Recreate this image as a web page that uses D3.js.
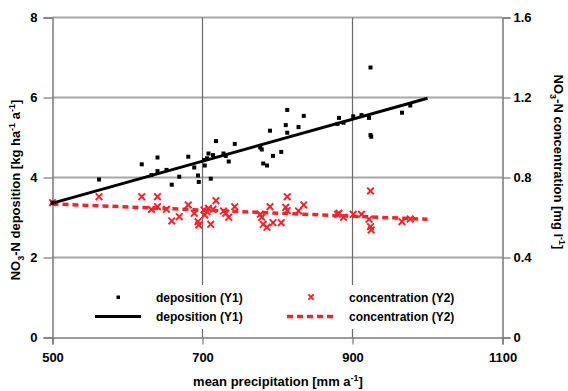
<!DOCTYPE html>
<html><head><meta charset="utf-8">
<script src="https://cdn.jsdelivr.net/npm/d3@7"></script>
<style>body{margin:0;background:#fff}svg{display:block}text{font-family:"Liberation Sans",Arial,sans-serif;font-weight:bold}</style>
</head><body><svg id="c" width="568" height="391"></svg>
<script>
const precip = [500,562,619,640,632,640,652,659,669,681,689,694,695,702,703,706,708,711,714,718,728,731,735,743,777,779,781,786,790,794,805,811,813,813,828,835,880,882,888,901,912,924,922,924,925,966,977];
const deposition = [3.37,3.95,4.33,4.50,4.06,4.16,4.19,3.82,4.02,4.52,4.25,4.05,3.89,4.44,4.30,4.48,4.60,3.97,4.56,4.91,4.60,4.54,4.40,4.84,4.75,4.70,4.35,4.30,5.17,4.54,4.64,5.31,5.69,5.12,5.26,5.54,5.34,5.49,5.37,5.53,5.56,6.75,5.49,5.06,5.02,5.62,5.80];
const concentration = [0.674,0.704,0.704,0.704,0.640,0.654,0.641,0.583,0.604,0.663,0.621,0.579,0.563,0.638,0.613,0.629,0.646,0.566,0.641,0.684,0.632,0.621,0.601,0.654,0.616,0.601,0.566,0.551,0.654,0.574,0.574,0.651,0.704,0.634,0.633,0.663,0.616,0.621,0.601,0.616,0.616,0.733,0.591,0.554,0.538,0.579,0.593];
const depTrendX = [500,1000], depTrendY = [3.36,5.98];
const concTrendX = [500,1000], concTrendY = [0.668,0.591];
const xTicks = [500,700,900,1100];
const y1Ticks = [0,2,4,6,8];
const y2Ticks = [0,0.4,0.8,1.2,1.6];

const svg = d3.select("#c");
const L=52.5, R=502.5, T=17.5, B=337.5;
const x = d3.scaleLinear().domain([500,1100]).range([L,R]);
const y1 = d3.scaleLinear().domain([0,8]).range([B,T]);
const y2 = d3.scaleLinear().domain([0,1.6]).range([B,T]);
const red = "#f4232b";

// horizontal gridlines
svg.append("g").selectAll("line").data(y1Ticks.filter(d=>d>0)).join("line")
  .attr("x1",L).attr("x2",R).attr("y1",d=>y1(d)).attr("y2",d=>y1(d))
  .attr("stroke","#a6a6a6").attr("stroke-width",2);
// vertical gridlines
svg.append("g").selectAll("line").data([700,900]).join("line")
  .attr("x1",d=>x(d)).attr("x2",d=>x(d)).attr("y1",T).attr("y2",B)
  .attr("stroke","#6a6a6a").attr("stroke-width",1.2);

// axes
const axStyle = g => {
  g.select(".domain").attr("stroke","#7a7a7a").attr("stroke-width",1.5);
  g.selectAll(".tick line").attr("stroke","#7a7a7a").attr("stroke-width",1.2);
  g.selectAll("text").attr("font-size",13).attr("fill","#000").style("font-weight","bold");
};
svg.append("g").attr("transform",`translate(0,${B})`)
  .call(d3.axisBottom(x).tickValues(xTicks).tickFormat(d3.format("d")).tickSizeOuter(0).tickSize(7).tickPadding(8))
  .call(axStyle);
svg.append("g").attr("transform",`translate(${L},0)`)
  .call(d3.axisLeft(y1).tickValues(y1Ticks).tickSizeOuter(0).tickSize(9).tickPadding(6))
  .call(axStyle);
svg.append("g").attr("transform",`translate(${R},0)`)
  .call(d3.axisRight(y2).tickValues(y2Ticks).tickFormat(d3.format("")).tickSizeOuter(0).tickSize(8).tickPadding(3))
  .call(axStyle);

// legend background
svg.append("rect").attr("x",85).attr("y",285).attr("width",380).attr("height",44).attr("fill","#fff");

// trend lines
const line = (xs,ys,sc)=>d3.line()(xs.map((v,i)=>[x(v),sc(ys[i])]));
svg.append("path").attr("d",line(concTrendX,concTrendY,y2)).attr("stroke",red).attr("stroke-width",3.5)
  .attr("stroke-dasharray","6,4").attr("fill","none");
svg.append("path").attr("d",line(depTrendX,depTrendY,y1)).attr("stroke","#000").attr("stroke-width",3).attr("fill","none");

// concentration points (x marks)
const cross = d3.symbol().type(d3.symbolX).size(30);
svg.append("g").selectAll("path").data(precip.map((p,i)=>[p,concentration[i]])).join("path")
  .attr("d",cross).attr("transform",d=>`translate(${x(d[0])},${y2(d[1])})`)
  .attr("stroke",red).attr("stroke-width",2).attr("fill","none");
// deposition points (squares)
svg.append("g").selectAll("rect").data(precip.map((p,i)=>[p,deposition[i]])).join("rect")
  .attr("x",d=>x(d[0])-2).attr("y",d=>y1(d[1])-2).attr("width",4).attr("height",4).attr("fill","#000");

// legend
const lg = svg.append("g").attr("font-size",12);
lg.append("rect").attr("x",116.5).attr("y",295.5).attr("width",3.5).attr("height",3.5).attr("fill","#000");
lg.append("text").attr("x",156).attr("y",301.5).text("deposition (Y1)");
lg.append("line").attr("x1",95).attr("x2",141).attr("y1",316.5).attr("y2",316.5).attr("stroke","#000").attr("stroke-width",3);
lg.append("text").attr("x",156).attr("y",321).text("deposition (Y1)");
lg.append("path").attr("d",d3.symbol().type(d3.symbolX).size(20)).attr("transform","translate(311,297)").attr("stroke",red).attr("stroke-width",2).attr("fill","none");
lg.append("text").attr("x",349).attr("y",301.5).text("concentration (Y2)");
lg.append("line").attr("x1",287).attr("x2",333).attr("y1",316.5).attr("y2",316.5).attr("stroke",red).attr("stroke-width",3.5).attr("stroke-dasharray","6,4");
lg.append("text").attr("x",349).attr("y",321).text("concentration (Y2)");

// axis titles
const xt = svg.append("text").attr("x",278).attr("y",386).attr("text-anchor","middle").attr("font-size",13);
xt.append("tspan").text("mean precipitation [mm a");
xt.append("tspan").attr("dy",-5).attr("font-size",9).text("-1");
xt.append("tspan").attr("dy",5).text("]");

const yt = svg.append("text").attr("transform","translate(20,190) rotate(-90)").attr("text-anchor","middle").attr("font-size",13);
yt.append("tspan").text("NO");
yt.append("tspan").attr("dy",4).attr("font-size",9).text("3");
yt.append("tspan").attr("dy",-4).text("-N deposition [kg ha");
yt.append("tspan").attr("dy",-5).attr("font-size",9).text("-1");
yt.append("tspan").attr("dy",5).text(" a");
yt.append("tspan").attr("dy",-5).attr("font-size",9).text("-1");
yt.append("tspan").attr("dy",5).text("]");

const yt2 = svg.append("text").attr("transform","translate(554,162) rotate(90)").attr("text-anchor","middle").attr("font-size",13);
yt2.append("tspan").text("NO");
yt2.append("tspan").attr("dy",4).attr("font-size",9).text("3");
yt2.append("tspan").attr("dy",-4).text("-N concentration [mg l");
yt2.append("tspan").attr("dy",-5).attr("font-size",9).text("-1");
yt2.append("tspan").attr("dy",5).text("]");
</script></body></html>
